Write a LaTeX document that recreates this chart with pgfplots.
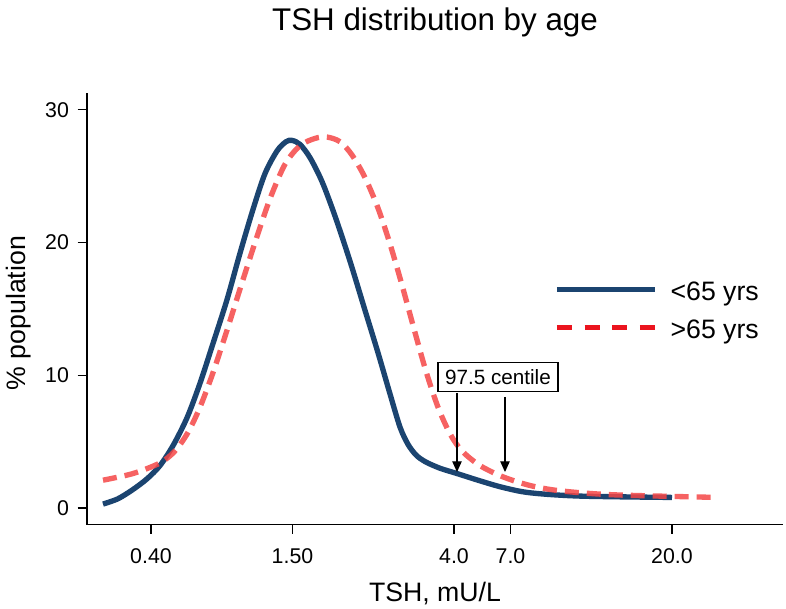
\documentclass[border=0pt]{standalone}
\usepackage{fontspec}
\setmainfont{Liberation Sans}
\usepackage{pgfplots}
\pgfplotsset{compat=1.18}
\usetikzlibrary{arrows.meta}
\definecolor{navy}{RGB}{27,68,112}
\definecolor{salmon}{RGB}{245,70,70}
\definecolor{legred}{RGB}{235,20,30}
\begin{document}
\begin{tikzpicture}
\begin{axis}[
  at={(0pt,0pt)}, anchor=south west,
  scale only axis, width=522pt, height=323.625pt,
  xmin=87, xmax=783, ymin=-1.24, ymax=31.27,
  axis x line=bottom, axis y line=left,
  axis line style={-, line width=1pt},
  xtick={151,292.5,454,510.5,672},
  xticklabels={0.40,1.50,4.0,7.0,20.0},
  ytick={0,10,20,30},
  minor tick num=0,
  tick align=outside, major tick length=7pt,
  tick style={line width=0.9pt, black},
  /pgf/number format/assume math mode=true,
  ticklabel style={font=\fontsize{16}{19}\selectfont},
  xticklabel style={yshift=-7.5pt},
  yticklabel style={xshift=-3pt},
  title={TSH distribution by age},
  title style={at={(axis description cs:0.5,1)}, anchor=base, yshift=41pt, font=\fontsize{23.5}{28}\selectfont},
  xlabel={TSH, mU/L},
  xlabel style={at={(axis description cs:0.5,0)}, anchor=base, yshift=-58.1pt, font=\fontsize{20}{24}\selectfont},
  ylabel={\% population},
  ylabel style={at={(axis description cs:-0.0880,0.490)}, anchor=base, font=\fontsize{20}{24}\selectfont},
  legend style={at={(axis cs:554,14.62)}, anchor=west, draw=none, fill=none,
    inner sep=0pt, font=\fontsize{20}{24}\selectfont, row sep=6.5pt,
    nodes={inner sep=0pt, text height=15pt, text depth=7pt},
    /tikz/every odd column/.append style={column sep=9.75pt}},
  legend cell align=left,
  legend image code/.code={\draw[#1] (0pt,4pt) -- (73.5pt,4pt);},
]
\addlegendimage{navy, line width=4pt}
\addlegendentry{<65 yrs}
\addlegendimage{legred, line width=4pt, dash pattern=on 11.25pt off 9.5pt}
\addlegendentry{>65 yrs}

\addplot[navy, line width=4pt, smooth, forget plot] coordinates {
(103,0.3) (118,0.7) (133,1.4) (147,2.2) (160,3.2) (173,4.7) (187,6.8)
(200,9.4) (213,12.4) (227,15.7) (240,19.2) (253,22.5) (265,25.2)
(277,26.9) (286,27.6) (292,27.7) (300,27.4) (310,26.4) (322,24.6)
(335,22.0) (350,18.6) (365,14.9) (378,11.7) (390,8.6) (400,6.1)
(408,4.8) (416,4.0) (425,3.5) (440,3.0) (457,2.6) (480,2.05) (503,1.55)
(530,1.15) (580,0.9) (672,0.8)
};
\addplot[salmon, opacity=0.85, line width=4pt, dash pattern=on 10.5pt off 6pt, smooth, forget plot] coordinates {
(103,2.1) (133,2.6) (160,3.4) (175,4.3) (188,5.7) (200,7.6) (213,10.2)
(227,13.4) (240,16.5) (255,20.0) (270,23.3) (285,25.9) (300,27.3)
(315,27.85) (327,27.95) (340,27.6) (352,26.6) (365,24.9) (378,22.6)
(390,19.9) (402,16.8) (414,13.5) (426,10.3) (438,7.6) (450,5.6)
(462,4.3) (480,3.2) (503,2.35) (530,1.7) (560,1.3) (613,1.0) (718,0.8)
};
\node[draw, line width=0.8pt, inner sep=0pt, font=\fontsize{15.5}{18}\selectfont,
  minimum width=90pt, minimum height=21.75pt] at (axis cs:498,9.84) {97.5 centile};
\draw[-{Triangle[width=7pt,length=8pt]}, line width=0.8pt] (axis cs:457,8.67) -- (axis cs:457,2.71);
\draw[-{Triangle[width=7pt,length=8pt]}, line width=0.8pt] (axis cs:505,8.37) -- (axis cs:505,2.71);
\end{axis}
\pgfresetboundingbox
\useasboundingbox (-65.25pt,-62.625pt) rectangle (524.25pt,393.375pt);
\end{tikzpicture}
\end{document}
